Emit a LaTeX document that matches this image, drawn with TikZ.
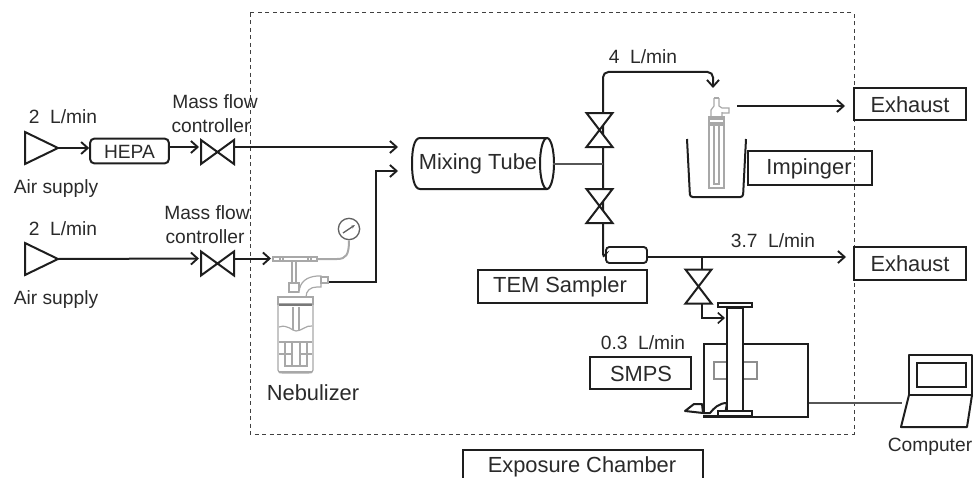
\documentclass[tikz,border=0pt]{standalone}
\usepackage{fontspec}
\setmainfont{Liberation Sans}
\usetikzlibrary{arrows.meta}
\definecolor{ink}{HTML}{1E1E1E}
\definecolor{txt}{HTML}{2A2A2A}
\definecolor{app}{HTML}{A8A8A8}
\tikzset{
  pipe/.style={draw=ink,line width=1.5pt},
  flow/.style={pipe,-{Straight Barb[length=5pt,width=9pt,line width=1.4pt]}},
  thinline/.style={draw=ink!75,line width=0.8pt},
  label/.style={text=txt,font=\fontsize{14.4pt}{16pt}\selectfont,inner sep=0pt},
  biglabel/.style={text=txt,font=\fontsize{16.4pt}{18pt}\selectfont,inner sep=0pt},
  boxed/.style={draw=ink,line width=1.4pt,fill=none,inner sep=0pt},
  glass/.style={draw=app,line width=0.9pt},
  glassheavy/.style={draw=app,line width=1.5pt},
  valvebox/.style={inner sep=0pt,outer sep=0pt},
  bowtie/.style={draw=ink,line width=1.5pt,line join=miter,fill=white},
}
\newcommand{\hvalve}[3]{%
  \node[valvebox,minimum width=24.75pt,minimum height=18pt] (#1) at (#2,#3) {};
  \draw[bowtie] (#1.north west)--(#1.south east)--(#1.north east)--(#1.south west)--cycle;}
\newcommand{\vvalve}[3]{%
  \node[valvebox,minimum width=19.5pt,minimum height=25.5pt] (#1) at (#2,#3) {};
  \draw[bowtie] (#1.north west)--(#1.north east)--(#1.south west)--(#1.south east)--cycle;}
\begin{document}
\begin{tikzpicture}[x=0.75pt,y=-0.75pt]
\useasboundingbox (0,0) rectangle (974,478);
% chamber
\draw[ink!85,line width=0.75pt,dash pattern=on 3pt off 2.6pt] (250,13) rectangle (854,434);
\node[boxed,minimum width=180pt,minimum height=30pt,anchor=north west] (chamberbox) at (462,449) {};
\node[biglabel] (chamber) at (582,467) {Exposure Chamber};
\fill[white] (455,478) rectangle (710,490);
% air supplies
\coordinate (s1tl) at (25,132); \coordinate (s1bl) at (25,164); \coordinate (s1) at (58,148);
\draw[pipe,line join=miter] (s1tl)--(s1)--(s1bl)--cycle;
\coordinate (s2tl) at (25,243); \coordinate (s2bl) at (25,275); \coordinate (s2) at (58,259);
\draw[pipe,line join=miter] (s2tl)--(s2)--(s2bl)--cycle;
\node[label] (f1) at (63,117) {2\ \ L/min};
\node[label] (f2) at (63,229) {2\ \ L/min};
\node[label] (a1) at (56,189) {Air supply};
\node[label] (a2) at (56,300) {Air supply};
% HEPA
\node[draw=ink,line width=1.5pt,rounded corners=3pt,minimum width=59pt,minimum height=18.5pt,inner sep=0pt] (hepa) at (129.5,151) {};
\node[label] (hepat) at (129.5,151.5) {HEPA};
% valves
\hvalve{v1}{217.5}{152}
\hvalve{v2}{217.5}{263.5}
\node[label] (m1a) at (215,102) {Mass flow};
\node[label] (m1b) at (211,126) {controller};
\node[label] (m2a) at (207,213) {Mass flow};
\node[label] (m2b) at (205,237) {controller};
% mixing tube
\coordinate (mixin1) at (398,147);
\coordinate (mixin2) at (398,171);
\coordinate (mixright) at (553,164);
\draw[pipe] (547,138) -- (420,138) .. controls (414,138) and (412,150) .. (412,163.5) .. controls (412,177) and (414,189) .. (420,189) -- (547,189);
\draw[pipe] (547,163.5) ellipse [x radius=7,y radius=25.5];
\node[biglabel] (mix) at (478,164) {Mixing Tube};
% inlet lines
\coordinate (v1in) at (v1.west |- s1);
\draw[flow] (s1) -- (hepa.west |- s1);
\draw[flow] (hepa.east |- s1) ++(0,-1) -- (199,147);
\coordinate (v1out) at (234,147);
\draw[flow] (v1out) -- (mixin1);
\draw[flow] (s2) -- (199,258.5);
\coordinate (v2out) at (234,258.5);
\coordinate (nebin) at (271,258.5);
\draw[flow] (v2out) -- (nebin);
\coordinate (nebout) at (328,282);
\draw[flow] (nebout) -- (376,282) -- (376,171) -- (mixin2);
% nebulizer
\draw[glass,fill=white] (273,257) rectangle (317,261);
\draw[glass] (280,257)--(280,261) (283,257)--(283,261) (308,257)--(308,261) (311,257)--(311,261);
\draw[glass,fill=white] (292,261) rectangle (296,283);
\draw[glass,fill=white] (289,283) rectangle (299,292);
\draw[glass,fill=white] (299,292) .. controls (300,282) and (306,277) .. (317,276) -- (321,276) -- (321,287) -- (317,287) .. controls (310,287) and (306,291) .. (306,297);
\draw[glass,fill=white] (321,277) rectangle (328,283);
\node[draw=ink!70,line width=1pt,circle,minimum size=16pt,inner sep=0pt] (gauge) at (349,229) {};
\draw[ink!70,line width=1pt,-{Stealth[length=3pt]}] (343,233) -- (355,225);
\draw[glassheavy] (317,259) -- (337,259) .. controls (346,259) and (349,255) .. (gauge.south);
\draw[glass,fill=white] (278,297) rectangle (313,304);
\draw[ink!60,line width=1pt] (279,305) -- (312,305);
\draw[glass] (278,304) -- (278,370) .. controls (278,373) and (280,373) .. (283,373) -- (308,373) .. controls (311,373) and (313,373) .. (313,370) -- (313,304);
\draw[glassheavy] (279,372) -- (312,372);
\draw[glass] (279,327) .. controls (288,324) and (292,331) .. (296,331) .. controls (302,331) and (306,325) .. (312,326);
\draw[glass] (279,342) -- (312,342) (279,354) -- (312,354);
\draw[glass] (293,307) -- (293,330) (299,307) -- (299,330);
\draw[glass,fill=white] (292,342) rectangle (300,366);
\draw[glass] (285,342) -- (285,366) -- (307,366) -- (307,342);
\node[biglabel] (neb) at (313,393) {Nebulizer};
% outlet manifold
\coordinate (j) at (603,164);
\coordinate (topc) at (603,72);
\coordinate (impin) at (713,88);
\node[boxed,fill=white,rounded corners=2.5pt,minimum width=30.75pt,minimum height=12pt] (tem) at (626.5,255) {};
\draw[pipe,rounded corners=3pt] (j) -- (603,247) -- (603,258) -- (tem.west);
\draw[flow,rounded corners=4pt] (j) -- (topc) -- (713,72) -- (impin);
\draw[thinline] (mixright) -- (j);
\vvalve{v3}{599.5}{130}
\vvalve{v4}{599.5}{206}
\node[label] (f3) at (643,57) {4\ \ L/min};
\node[boxed,minimum width=126.75pt,minimum height=24.75pt] (tembox) at (562.5,286.5) {};
\node[biglabel] (temt) at (560,287) {TEM Sampler};
% exhaust
\node[boxed,minimum width=84pt,minimum height=24pt] (ex1) at (910,104) {};
\node[biglabel] (ex1t) at (910,104.5) {Exhaust};
\node[boxed,minimum width=84pt,minimum height=24.75pt] (ex2) at (910,263.5) {};
\node[biglabel] (ex2t) at (910,264) {Exhaust};
\coordinate (impout) at (737,106);
\draw[flow] (impout) -- (845,106);
\coordinate (branch) at (702,257);
\draw[flow] (tem.east |- branch) -- (846,257);
\node[label] (f4) at (773,241) {3.7\ \ L/min};
% impinger
\draw[pipe,rounded corners=2pt] (687,139) -- (690,197) -- (743,197) -- (746,139);
\draw[glass] (714,98) -- (714,106) -- (711,110) -- (711,117) -- (722,117) -- (722,112) (719,98) -- (719,106) -- (722,108) -- (729,108) -- (729,113) -- (722,113);
\draw[glass] (714,98) -- (719,98);
\draw[app,line width=2.5pt] (708,118) -- (725,118) (709,124) -- (724,124);
\draw[glass] (709,117) -- (709,188) -- (724,188) -- (724,117);
\draw[glass] (714,124) -- (714,184) -- (719,184) -- (719,124);
\node[boxed,minimum width=92.5pt,minimum height=25.5pt] (imp) at (810,168) {};
\node[biglabel] (impt) at (809,169) {Impinger};
% SMPS
\draw[pipe] (702,257) -- (702,270);
\vvalve{v5}{698.5}{286.5}
\node[boxed,line width=1.5pt,minimum width=78pt,minimum height=54.75pt,anchor=north west] (smps) at (703,343) {};
\draw[draw=ink!50,line width=1pt] (714,362) rectangle (757,379);
\draw[pipe,fill=white,line join=round] (703,416) -- (718,416) -- (725,415) -- (727,403) .. controls (719,403) and (714,408) .. (710,413) -- (703,413);
\draw[pipe,fill=white,line join=round] (703,413) -- (702,404) -- (694,404) -- (685,411) -- (703,413);
\node[draw=ink,line width=1.5pt,fill=white,inner sep=0pt,minimum width=12pt,minimum height=78pt,anchor=north] (col) at (735,307) {};
\node[draw=ink,line width=1.5pt,fill=white,inner sep=0pt,minimum width=25.5pt,minimum height=3pt] (fl1) at (735,305) {};
\node[draw=ink,line width=1.5pt,fill=white,inner sep=0pt,minimum width=25.5pt,minimum height=3.75pt] (fl2) at (735,413.5) {};
\coordinate (smpin) at (725,318);
\draw[draw=ink,line width=1.2pt,-{Straight Barb[length=4.5pt,width=8pt,line width=1.2pt]}] (702,303) -- (702,318) -- (smpin);
\node[label] (f5) at (643,343) {0.3\ \ L/min};
\node[boxed,minimum width=75.75pt,minimum height=24pt] (smpsbox) at (640.5,373) {};
\node[biglabel] (smpst) at (641,373.5) {SMPS};
% computer
\draw[pipe,line join=round] (909,395) -- (909,355) -- (972,355) -- (972,395) -- cycle;
\draw[ink,line width=1pt] (917,363) rectangle (966,387);
\draw[pipe,line join=round] (909,395) -- (901,427) -- (967,427) -- (972,395);
\coordinate (pc) at (902,403);
\draw[thinline] (smps.east |- pc) -- (pc);
\node[label] (pct) at (930,447) {Computer};
\end{tikzpicture}
\end{document}
